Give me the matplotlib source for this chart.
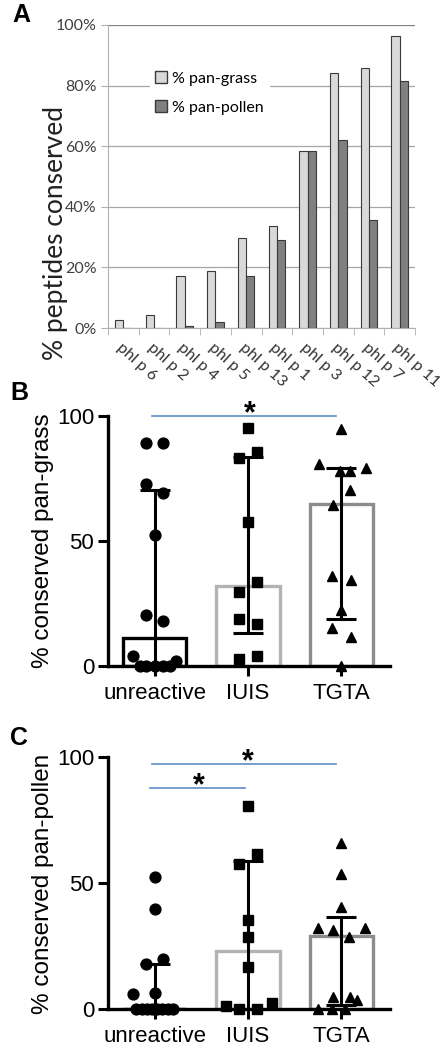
import numpy as np
import matplotlib
matplotlib.use("Agg")
import matplotlib.pyplot as plt
from matplotlib.patches import Patch

# ---- Panel A data ----
allergens = ["phl p 6", "phl p 2", "phl p 4", "phl p 5", "phl p 13",
             "phl p 1", "phl p 3", "phl p 12", "phl p 7", "phl p 11"]
pan_grass = [2.7, 4.4, 17.0, 18.7, 29.8, 33.8, 58.5, 84.0, 85.8, 96.3]
pan_pollen = [0.0, 0.0, 0.5, 2.0, 17.0, 28.9, 58.5, 62.2, 35.8, 81.4]

# ---- Panels B / C data ----
groups = ["unreactive", "IUIS", "TGTA"]

grass_unreactive = [89.3, 89.3, 72.7, 69.2, 52.5, 20.5, 17.9, 3.9, 2.0, 0, 0, 0, 0, 0]
grass_iuis = [95.2, 83.3, 85.6, 57.6, 33.6, 29.6, 18.7, 16.7, 2.9, 3.9]
grass_tgta = [94.7, 80.9, 79.3, 78.0, 78.0, 70.3, 64.3, 36.0, 34.3, 22.3, 15.3, 11.6, 0]
grass_median = [11.2, 32.0, 64.7]
grass_low = [0, 13.3, 18.7]
grass_high = [70.3, 83.6, 79.3]

pollen_unreactive = [52.4, 39.6, 17.8, 19.8, 5.9, 6.5, 0, 0, 0, 0, 0, 0, 0, 0]
pollen_iuis = [80.6, 57.5, 61.5, 35.5, 28.7, 16.8, 1.2, 2.2, 0, 0]
pollen_tgta = [66.0, 53.4, 40.6, 32.0, 31.3, 32.0, 28.7, 4.6, 4.6, 3.6, 0, 0, 0]
pollen_median = [0.0, 23.1, 29.1]
pollen_low = [0, 0, 1.6]
pollen_high = [17.8, 58.8, 36.6]

# horizontal scatter of the points (layout only)
jit_b = [
    [-0.09, 0.09, -0.09, 0.09, 0, -0.09, 0.09, -0.23, 0.23, -0.16, -0.09, 0, 0.09, 0.16],
    [0, -0.1, 0.1, 0, 0.1, -0.1, -0.1, 0.1, -0.1, 0.1],
    [0, -0.24, 0.26, -0.02, 0.09, 0.09, -0.09, -0.1, 0.1, 0, -0.1, 0.1, 0],
]
jit_c = [
    [0, 0, -0.09, 0.09, -0.23, 0, -0.2, -0.14, -0.08, -0.03, 0.03, 0.08, 0.14, 0.2],
    [0, -0.1, 0.1, 0, 0, 0, -0.24, 0.26, -0.1, 0.1],
    [0, 0, 0, -0.25, -0.09, 0.25, 0.08, -0.09, 0.09, 0.17, -0.25, -0.1, 0.04],
]

W, H = 445, 1048
fig = plt.figure(figsize=(W / 100, H / 100), dpi=100)


def px_axes(left, top, right, bottom):
    return fig.add_axes([left / W, 1 - bottom / H, (right - left) / W, (bottom - top) / H])


# -----------------------------
# -----  Panel A  -----
# -----------------------------
axA = px_axes(108, 25, 415, 328)
x = np.arange(len(allergens))
bw = 0.27
axA.bar(x - bw / 2, pan_grass, bw, color="#d9d9d9", edgecolor="#3a3a3a", linewidth=0.8, zorder=3)
axA.bar(x + bw / 2, pan_pollen, bw, color="#808080", edgecolor="#3a3a3a", linewidth=0.8, zorder=3)
axA.set_xlim(-0.5, 9.5)
axA.set_ylim(0, 100)
yt = [0, 20, 40, 60, 80, 100]
axA.set_yticks(yt)
axA.set_yticklabels([f"{v}%" for v in yt], family="Lato", fontsize=11.5, color="#404040")
axA.yaxis.grid(True, color="#a6a6a6", linewidth=0.9)
axA.get_ygridlines()[-1].set_color("#808080")
axA.set_axisbelow(True)
for s in ["top", "right"]:
    axA.spines[s].set_visible(False)
axA.spines["left"].set_color("#b0b0b0")
axA.spines["bottom"].set_color("#b0b0b0")
axA.tick_params(axis="y", length=5, color="#b0b0b0", pad=3)
axA.set_xticks(np.arange(-0.5, 10, 1), minor=True)
axA.set_xticks(x)
axA.tick_params(axis="x", which="minor", length=5, color="#b0b0b0")
axA.tick_params(axis="x", which="major", length=0, pad=9)
axA.set_xticklabels(allergens, rotation=-42, ha="left", rotation_mode="anchor",
                    family="Lato", fontsize=11.5, color="#333333")
leg = axA.legend(handles=[Patch(facecolor="#d9d9d9", edgecolor="#3a3a3a", label="% pan-grass"),
                          Patch(facecolor="#808080", edgecolor="#3a3a3a", label="% pan-pollen")],
                 loc="upper left", bbox_to_anchor=(0.11, 0.89), frameon=True, fancybox=False,
                 prop={"family": "Lato", "size": 11.5}, handlelength=0.8, handleheight=0.8,
                 handletextpad=0.3, labelspacing=0.9, borderpad=0.3)
leg.get_frame().set_edgecolor("white")
leg.get_frame().set_facecolor("white")
leg.get_frame().set_alpha(1)
fig.text(55 / W, 1 - 233 / H, "% peptides conserved", rotation=90, ha="center", va="center",
         family="Lato", fontsize=19, color="#222222")
fig.text(12 / W, 1 - 15 / H, "A", ha="left", va="center", fontsize=18, fontweight="bold",
         family="Liberation Sans")


# -----------------------------
# -----  Panels B / C  -----
# -----------------------------
def dot_panel(ax, data, jit, med, low, high):
    xs = np.arange(3)
    edge = ["black", "#b3b3b3", "#8c8c8c"]
    for i in range(3):
        ax.bar(xs[i], med[i], 0.68, facecolor="white", edgecolor=edge[i], linewidth=2.4, zorder=2)
    yerr = [np.array(med) - np.array(low), np.array(high) - np.array(med)]
    ax.errorbar(xs, med, yerr=yerr, fmt="none", ecolor="black", elinewidth=2.2,
                capsize=11, capthick=2.2, zorder=3, clip_on=False)
    markers = ["o", "s", "^"]
    for i in range(3):
        ax.plot(xs[i] + np.array(jit[i]), data[i], linestyle="none", marker=markers[i],
                markersize=7.8, color="black", zorder=4, clip_on=False)
    ax.set_xlim(-0.5, 2.52)
    ax.set_ylim(0, 100)
    ax.set_yticks([0, 50, 100])
    ax.set_yticklabels(["0", "50", "100"], family="Liberation Sans", fontsize=16)
    ax.set_xticks(xs)
    ax.set_xticklabels(groups, family="Liberation Sans", fontsize=16)
    ax.tick_params(axis="x", length=7, width=2.2, pad=5)
    ax.tick_params(axis="y", length=7, width=2.2, pad=3)
    for s in ["top", "right"]:
        ax.spines[s].set_visible(False)
    for s in ["left", "bottom"]:
        ax.spines[s].set_linewidth(2.4)


def sig_bar(ax, x0, x1, y, star_x):
    ax.plot([x0, x1], [y, y], color="#5b8fc9", linewidth=1.2, clip_on=False, zorder=5)
    ax.text(star_x, y + 0.5, "*", ha="center", va="center", fontsize=22, fontweight="bold",
            family="Liberation Sans", clip_on=False)


axB = px_axes(108, 416, 390, 666)
dot_panel(axB, [grass_unreactive, grass_iuis, grass_tgta], jit_b, grass_median, grass_low, grass_high)
sig_bar(axB, -0.03, 1.94, 100, 1.02)
fig.text(43 / W, 1 - 541 / H, "% conserved pan-grass", rotation=90, ha="center", va="center",
         family="Liberation Sans", fontsize=17.5)
fig.text(10 / W, 1 - 393 / H, "B", ha="left", va="center", fontsize=18, fontweight="bold",
         family="Liberation Sans")

axC = px_axes(108, 757, 390, 1009)
dot_panel(axC, [pollen_unreactive, pollen_iuis, pollen_tgta], jit_c, pollen_median, pollen_low, pollen_high)
sig_bar(axC, -0.03, 1.94, 97.4, 1.0)
sig_bar(axC, -0.05, 0.97, 87.8, 0.47)
fig.text(43 / W, 1 - 884 / H, "% conserved pan-pollen", rotation=90, ha="center", va="center",
         family="Liberation Sans", fontsize=17.5)
fig.text(10 / W, 1 - 738 / H, "C", ha="left", va="center", fontsize=18, fontweight="bold",
         family="Liberation Sans")

fig.savefig("out.png", dpi=100, facecolor="white")
